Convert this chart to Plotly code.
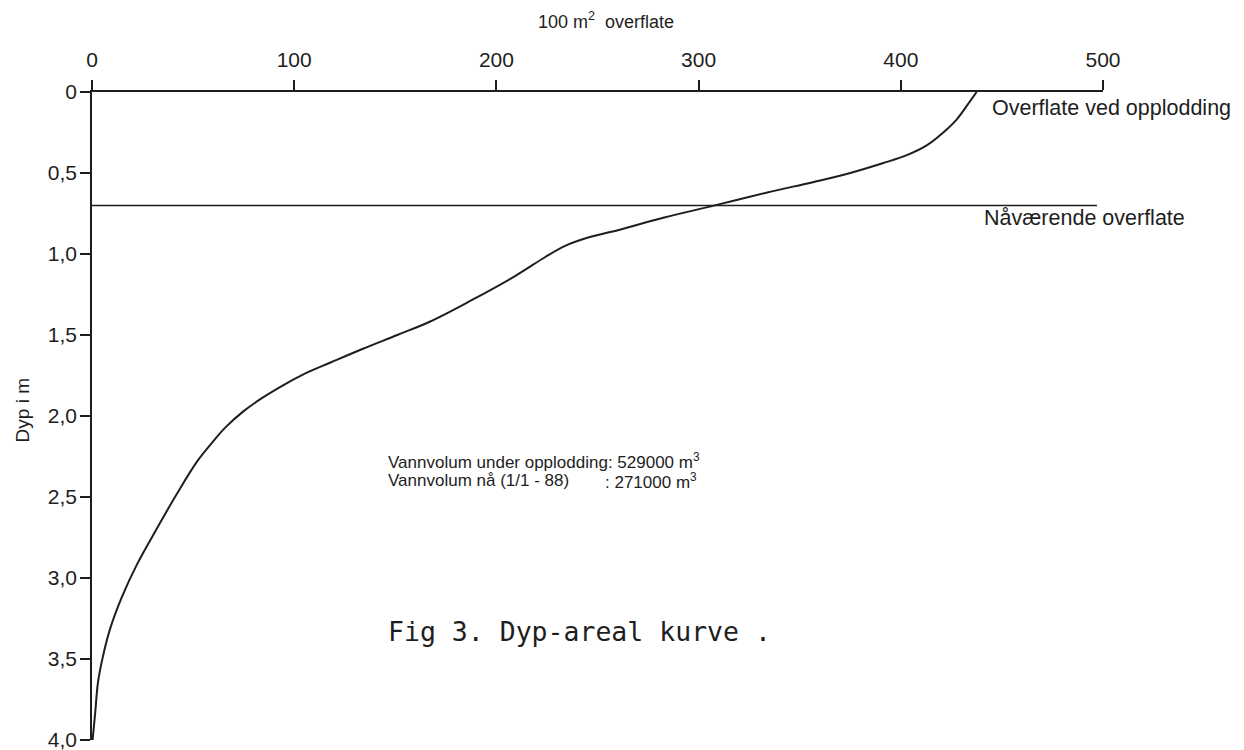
import plotly.graph_objects as go

# Depth-area curve (depth in m, area in 100 m^2)
depth_m = [0.00, 0.086, 0.17, 0.25, 0.33, 0.39, 0.44, 0.50, 0.555, 0.62, 0.70,
           0.775, 0.85, 0.90, 0.95, 1.02, 1.138, 1.29, 1.418, 1.50, 1.585, 1.67,
           1.74, 1.80, 1.89, 1.97, 2.07, 2.17, 2.28, 2.48, 2.69, 2.91, 3.12, 3.32,
           3.49, 3.65, 3.83, 4.00]
area_100m2 = [437.5, 432.6, 427.6, 421, 412.8, 403, 391, 375, 357, 334, 308,
              283, 261, 245, 234, 224, 209, 187, 167, 151, 134, 118,
              105, 96, 84, 75, 66, 59, 52, 42, 32.3, 22.5, 14.7, 8.8,
              5.3, 2.9, 1.6, 0.3]

# Present water surface line
present_x = [0, 497]
present_y = [0.70, 0.70]

x_tickvals = [0, 100, 200, 300, 400, 500]
x_ticktext = ["0", "100", "200", "300", "400", "500"]
y_tickvals = [0, 0.5, 1.0, 1.5, 2.0, 2.5, 3.0, 3.5, 4.0]
y_ticktext = ["0", "0,5", "1,0", "1,5", "2,0", "2,5", "3,0", "3,5", "4,0"]

INK = "#1e1e1e"
FONT = "Liberation Sans"

fig = go.Figure()
fig.add_trace(go.Scatter(x=present_x, y=present_y, mode="lines",
                         line=dict(color=INK, width=1.5), hoverinfo="skip",
                         showlegend=False, cliponaxis=False))
fig.add_trace(go.Scatter(x=area_100m2, y=depth_m, mode="lines",
                         line=dict(color=INK, width=2, shape="spline", smoothing=1.0),
                         showlegend=False, cliponaxis=False))

# page body has an 8px margin: plot area spans x 92..1103, y 92..740 on the page
fig.update_layout(
    width=1236, height=742,
    margin=dict(l=84, r=141, t=84, b=10, autoexpand=False),
    paper_bgcolor="white", plot_bgcolor="white",
    font=dict(family=FONT, color=INK, size=21),
    xaxis=dict(range=[0, 500], side="top", tickvals=x_tickvals, ticktext=x_ticktext,
               showline=True, linecolor=INK, linewidth=1.6, ticks="outside",
               ticklen=10, tickwidth=1.5, tickcolor=INK, showgrid=False,
               zeroline=False, ticklabelstandoff=5, automargin=False,
               tickfont=dict(family=FONT, size=21, color=INK)),
    yaxis=dict(range=[4.0, 0], tickvals=y_tickvals, ticktext=y_ticktext,
               showline=True, linecolor=INK, linewidth=1.6, ticks="outside",
               ticklen=10, tickwidth=1.5, tickcolor=INK, showgrid=False,
               zeroline=False, ticklabelstandoff=-1, ticklabeloverflow="allow",
               automargin=False,
               tickfont=dict(family=FONT, size=21, color=INK)),
)

annotations = [
    dict(text="100 m<sup>2</sup>  overflate", xref="x", yref="paper", x=254, y=1.111,
         xanchor="center", yanchor="middle", showarrow=False,
         font=dict(family=FONT, size=18, color=INK)),
    dict(text="Dyp i m", xref="paper", yref="paper", x=-0.069, y=0.509,
         textangle=-90, xanchor="center", yanchor="middle", showarrow=False,
         font=dict(family=FONT, size=19, color=INK)),
    dict(text="Overflate ved opplodding", xref="paper", yref="y", x=0.888, y=0.10,
         xanchor="left", yanchor="middle", showarrow=False,
         font=dict(family=FONT, size=21.5, color=INK)),
    dict(text="Nåværende overflate", xref="paper", yref="y", x=1.083, y=0.78,
         xanchor="right", yanchor="middle", showarrow=False,
         font=dict(family=FONT, size=21.5, color=INK)),
    dict(text="Vannvolum under opplodding: 529000 m<sup>3</sup>", xref="x", yref="y",
         x=145.4, y=2.28, xanchor="left", yanchor="middle", showarrow=False,
         font=dict(family=FONT, size=17, color=INK)),
    dict(text="Vannvolum nå (1/1 - 88)", xref="x", yref="y",
         x=145.4, y=2.40, xanchor="left", yanchor="middle", showarrow=False,
         font=dict(family=FONT, size=17, color=INK)),
    dict(text=": 271000 m<sup>3</sup>", xref="x", yref="y",
         x=252.5, y=2.40, xanchor="left", yanchor="middle", showarrow=False,
         font=dict(family=FONT, size=17, color=INK)),
    dict(text="Fig 3. Dyp-areal kurve .", xref="x", yref="y",
         x=145.4, y=3.33, xanchor="left", yanchor="middle", showarrow=False,
         font=dict(family="DejaVu Sans Mono", size=26.5, color=INK)),
]
fig.update_layout(annotations=annotations)

fig.write_html("out.html")
